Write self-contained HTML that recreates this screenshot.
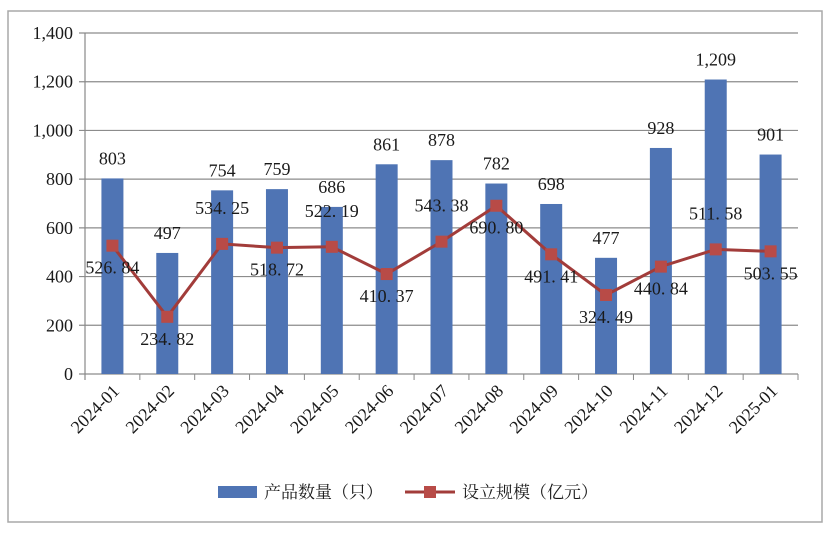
<!DOCTYPE html>
<html><head><meta charset="utf-8"><style>
body{margin:0;background:#fff;}
svg text{font-family:"Liberation Serif","Noto Serif CJK SC",serif;fill:#1a1a1a;}
</style></head><body>
<svg id="c" width="832" height="532" xmlns="http://www.w3.org/2000/svg">
<rect x="8" y="11" width="814" height="511" fill="#fff" stroke="#a8a8a8" stroke-width="1.5"/>
<g id="grid"></g><g id="bars"></g><g id="line"></g><g id="labels"></g><g id="axes"></g>
<g>
<rect x="218" y="486" width="39" height="12" fill="#4f74b4"/>
<text x="264" y="498" font-size="17">产品数量（只）</text>
<line x1="405" y1="492" x2="455" y2="492" stroke="#a23c3a" stroke-width="3"/>
<rect x="424" y="486" width="12" height="12" fill="#b84b47"/>
<text x="462" y="498" font-size="17">设立规模（亿元）</text>
</g>
</svg>
<script>
const categories=["2024-01","2024-02","2024-03","2024-04","2024-05","2024-06","2024-07","2024-08","2024-09","2024-10","2024-11","2024-12","2025-01"];
const counts=[803,497,754,759,686,861,878,782,698,477,928,1209,901];
const scale=[526.84,234.82,534.25,518.72,522.19,410.37,543.38,690.80,491.41,324.49,440.84,511.58,503.55];
const yTicks=[0,200,400,600,800,1000,1200,1400];
const lineLabelSide=["below","below","above","below","above","below","above","below","below","below","below","above","below"];
const NS="http://www.w3.org/2000/svg";
const X0=85,X1=798,Y0=374,Y1=33;
const bw=(X1-X0)/categories.length;
const x=i=>X0+bw*(i+0.5);
const y=v=>Y0-(v/1400)*(Y0-Y1);
function mk(tag,at,parent){const e=document.createElementNS(NS,tag);for(const k in at)e.setAttribute(k,at[k]);document.getElementById(parent).appendChild(e);return e;}
const fmt=v=>v.toLocaleString('en-US');
yTicks.forEach(t=>{
 const g=mk('line',{x1:X0-6,x2:X1,y1:y(t),y2:y(t),stroke:'#8c8c8c','stroke-width':1.2},'grid');
 
 
 const tx=mk('text',{x:X0-12,y:y(t)+6,'text-anchor':'end','font-size':18},'axes');
 tx.textContent=fmt(t);
 
 
});
const ax=mk('line',{x1:X0,x2:X0,y1:Y1,y2:Y0+6,stroke:'#888','stroke-width':1.2},'axes');


categories.forEach((c,i)=>{
 const tk=mk('line',{x1:X0+bw*(i+1),x2:X0+bw*(i+1),y1:Y0,y2:Y0+6,stroke:'#888'},'axes');
 
 
 const lx=x(i)+8,ly=Y0+18;
 const t=mk('text',{x:lx,y:ly,'text-anchor':'end','font-size':18,transform:`rotate(-45 ${lx} ${ly})`},'axes');
 t.textContent=c;
 
 
 const b=mk('rect',{x:x(i)-11,y:y(counts[i]),width:22,height:Y0-y(counts[i]),fill:'#4f74b4'},'bars');
 
 
 const bl=mk('text',{x:x(i),y:y(counts[i])-14,'text-anchor':'middle','font-size':18},'labels');
 bl.textContent=fmt(counts[i]);
 
 
});
const pts=scale.map((v,i)=>x(i)+','+y(v)).join(' ');
const pl=mk('polyline',{points:pts,fill:'none',stroke:'#a23c3a','stroke-width':3},'line');


scale.forEach((v,i)=>{
 const m=mk('rect',{x:x(i)-6,y:y(v)-6,width:12,height:12,fill:'#b84b47'},'line');
 
 
 const ly=lineLabelSide[i]==='above'?y(v)-30:y(v)+28;
 const t=mk('text',{x:x(i),y:ly,'text-anchor':'middle','font-size':18},'labels');
 t.textContent=v.toFixed(2).replace('.','. ');
 
 
});
</script>
</body></html>
